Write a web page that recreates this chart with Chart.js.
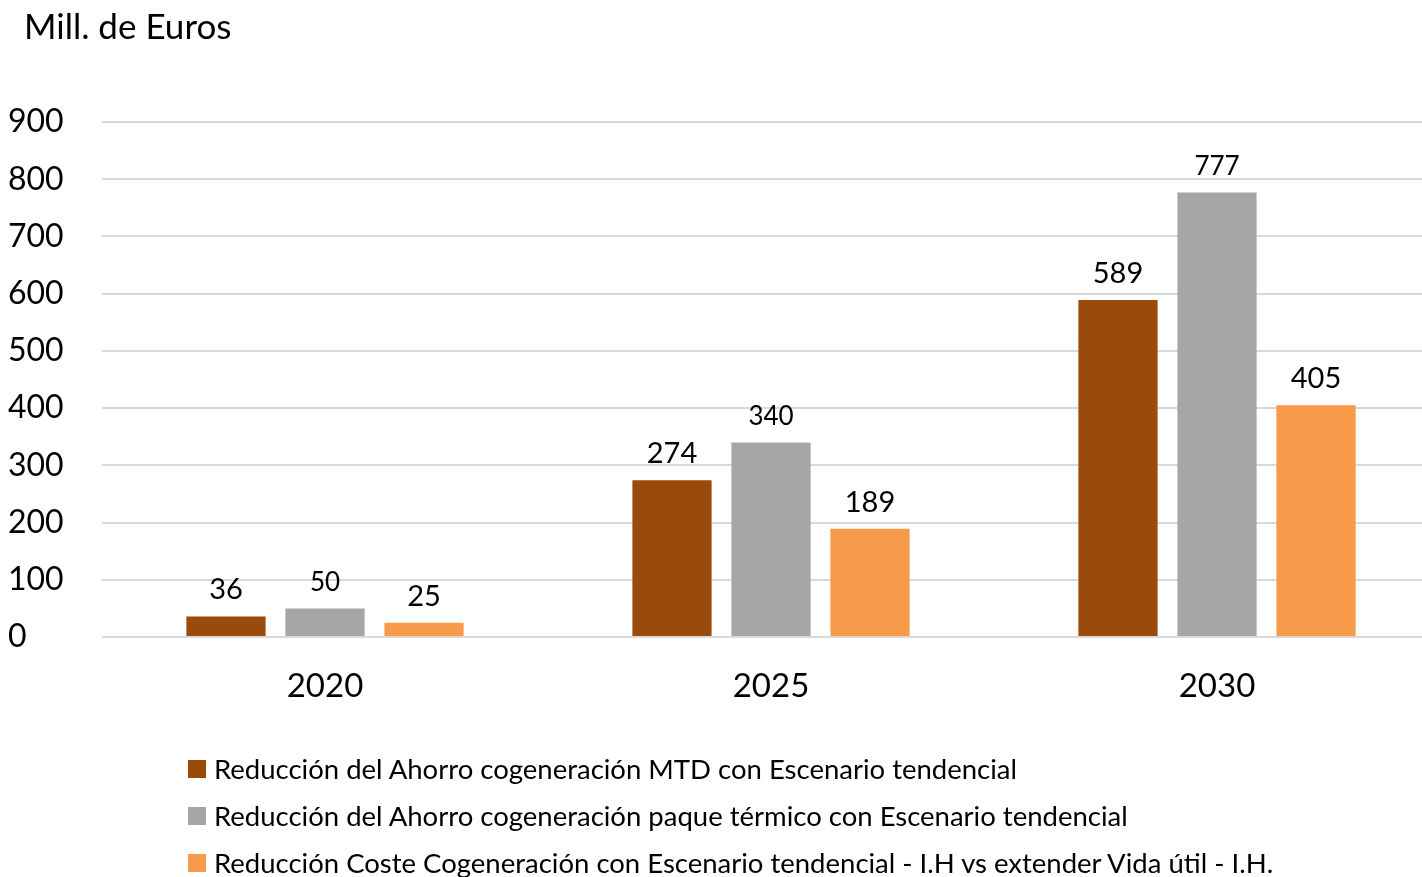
<!DOCTYPE html>
<html>
<head>
<meta charset="utf-8">
<script src="https://cdn.jsdelivr.net/npm/chart.js@4"></script>
<style>
    body { margin: 0; background: #fff; overflow: hidden; font-family: Lato, sans-serif; }
    #wrap { position: relative; width: 1422px; height: 877px; overflow: hidden; }
    #title { position: absolute; left: 24px; top: 4px; font-size: 35px; color: #000; }
    #legend { position: absolute; left: 188px; top: 745px; font-size: 27.5px; color: #000; }
    .item { height: 47px; display: flex; align-items: center; white-space: nowrap; }
    .box { width: 18px; height: 18px; margin-right: 8px; }
    canvas { position: absolute; left: 0; top: 0; }
</style>
</head>
<body>
<div id="wrap">
    <canvas id="chart" width="1440" height="877"></canvas>
    <div id="title">Mill. de Euros</div>
    <div id="legend"></div>
</div>
<script>
// Chart data
const categories = ['2020', '2025', '2030'];
const seriesNames = [
    'Reducción del Ahorro cogeneración MTD con Escenario tendencial',
    'Reducción del Ahorro cogeneración paque térmico con Escenario tendencial',
    'Reducción Coste Cogeneración con Escenario tendencial - I.H vs extender Vida útil - I.H.'
];
const mtdValues = [36, 274, 589];
const termicoValues = [50, 340, 777];
const costeValues = [25, 189, 405];
const yTicks = [0, 100, 200, 300, 400, 500, 600, 700, 800, 900];

const colors = ['#9A4A0A', '#A6A6A6', '#F79A4A'];
const labelSizes = [29, 26, 29];

// Value labels above bars
const barLabels = {
    id: 'barLabels',
    afterDatasetsDraw(chart) {
        const ctx = chart.ctx;
        chart.data.datasets.forEach((ds, i) => {
            const meta = chart.getDatasetMeta(i);
            ctx.save();
            ctx.font = labelSizes[i] + 'px Lato';
            ctx.fillStyle = '#000';
            ctx.textAlign = 'center';
            ctx.textBaseline = 'alphabetic';
            meta.data.forEach((bar, j) => {
                ctx.fillText(ds.data[j], bar.x, bar.y - 17);
            });
            ctx.restore();
        });
    }
};

const datasets = [mtdValues, termicoValues, costeValues].map((vals, i) => ({
    label: seriesNames[i],
    data: vals,
    backgroundColor: colors[i],
    categoryPercentage: 0.666,
    barPercentage: 0.8
}));

new Chart(document.getElementById('chart').getContext('2d'), {
    type: 'bar',
    data: { labels: categories, datasets: datasets },
    options: {
        responsive: false,
        animation: false,
        layout: { padding: { top: 122, left: 8, right: 0, bottom: 0 } },
        scales: {
            x: {
                grid: { display: false },
                border: { display: false },
                ticks: { color: '#000', font: { family: 'Lato', size: 33 }, padding: 22 },
                afterFit(scale) { scale.height = 240; }
            },
            y: {
                min: 0,
                max: 900,
                afterBuildTicks(scale) { scale.ticks = yTicks.map(v => ({ value: v })); },
                grid: { color: '#D9D9D9', lineWidth: 2, drawTicks: false },
                border: { display: false },
                ticks: {
                    color: '#000',
                    font: { family: 'Lato', size: 32 },
                    crossAlign: 'far',
                    padding: 0
                },
                afterFit(scale) { scale.width = 94; }
            }
        },
        plugins: {
            legend: { display: false },
            tooltip: { enabled: false }
        }
    },
    plugins: [barLabels]
});

// HTML legend
const legend = document.getElementById('legend');
seriesNames.forEach((name, i) => {
    const item = document.createElement('div');
    item.className = 'item';
    item.innerHTML = '<span class="box" style="background:' + colors[i] + '"></span>' + name;
    legend.appendChild(item);
});
</script>
</body>
</html>
